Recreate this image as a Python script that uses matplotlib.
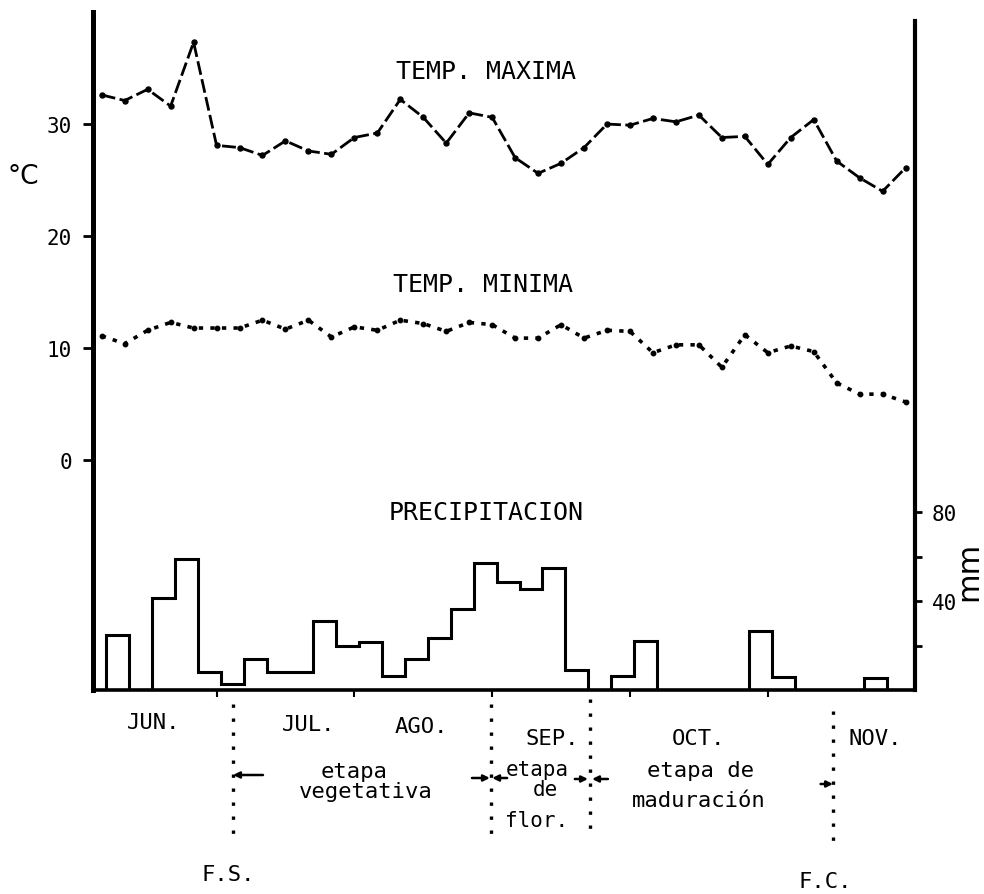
import matplotlib
matplotlib.use("Agg")
import matplotlib.pyplot as plt
import numpy as np

# ---------------- data (pentads, June - November) ----------------
pentad = np.arange(36)
t_max = [32.6, 32.1, 33.1, 31.6, 37.3, 28.1, 27.9, 27.2, 28.5, 27.6, 27.3, 28.8,
         29.2, 32.2, 30.6, 28.3, 31.0, 30.6, 27.0, 25.6, 26.5, 27.9, 30.0, 29.9,
         30.5, 30.2, 30.8, 28.8, 28.9, 26.4, 28.8, 30.4, 26.7, 25.2, 24.0, 26.1]
t_min = [11.1, 10.4, 11.6, 12.3, 11.8, 11.8, 11.8, 12.5, 11.7, 12.5, 11.0, 11.9,
         11.6, 12.5, 12.2, 11.5, 12.3, 12.1, 10.9, 10.9, 12.1, 10.9, 11.6, 11.5,
         9.6, 10.3, 10.3, 8.3, 11.2, 9.6, 10.2, 9.7, 6.9, 5.9, 5.9, 5.2]
precip = [24.5, 0, 41.3, 58.7, 8.0, 2.8, 13.9, 8.0, 8.0, 30.8, 19.6, 21.7,
          6.1, 13.8, 23.4, 36.5, 56.9, 48.5, 45.5, 54.8, 9.1, 0, 6.2, 22.0,
          0, 0, 0, 0, 26.5, 6.0, 0, 0, 0, 5.5, 0]
temp_ticks = [0, 10, 20, 30]
mm_ticks = [40, 80]
mm_minor = [20, 60]
month_labels = ["JUN.", "JUL.", "AGO.", "SEP.", "OCT.", "NOV."]
month_ticks = [5, 11, 17, 23, 29]

# ---------------- layout ----------------
W, H = 984, 895
FONT = "DejaVu Sans Mono"
plt.rcParams["font.family"] = [FONT, "DejaVu Sans"]

fig = plt.figure(figsize=(W / 100, H / 100), dpi=100)
ax_left, ax_right, ax_top, ax_bot = 93, 915, 13, 691
ax = fig.add_axes([ax_left / W, (H - ax_bot) / H, (ax_right - ax_left) / W,
                   (ax_bot - ax_top) / H])

def yf(py):
    """pixel row -> axes fraction (for annotations below the axis)"""
    return (ax_bot - py) / (ax_bot - ax_top)

# temperature curves
ax.plot(pentad, t_max, color="black", lw=2.0, ls=(0, (5, 1.6)),
        marker="o", ms=3.6, mfc="black", mec="black")
ax.plot(pentad, t_min, color="black", lw=2.6, ls=(0, (1.2, 2.0)),
        marker="o", ms=3.2, mfc="black", mec="black")

ax.set_xlim(-0.38, 35.41)
ax.set_ylim(-20.5, 40.0)
ax.set_yticks(temp_ticks)
ax.set_yticklabels([str(t) for t in temp_ticks], fontsize=15, family=FONT)
ax.tick_params(axis="y", direction="out", length=7, width=2, pad=8)
ax.set_xticks(month_ticks)
ax.set_xticklabels([])
ax.tick_params(axis="x", direction="out", length=5, width=1.5)

ax.spines["top"].set_visible(False)
ax.spines["right"].set_visible(False)
ax.spines["left"].set_linewidth(3.6)
ax.spines["bottom"].set_linewidth(2.6)

# precipitation (secondary axis)
ax2 = ax.twinx()
edges = pentad[:len(precip) + 1] + 0.19
ax2.stairs(precip, edges, baseline=0, color="black", lw=2.2)
ax2.set_ylim(0, (ax_bot - ax_top) / 2.225)
ax2.set_yticks(mm_ticks)
ax2.set_yticklabels([str(t) for t in mm_ticks], fontsize=15, family=FONT)
ax2.set_yticks(mm_minor, minor=True)
ax2.tick_params(axis="y", which="both", direction="out", length=5, width=2, pad=7)
for s in ("top", "left", "bottom"):
    ax2.spines[s].set_visible(False)
ax2.spines["right"].set_linewidth(3.0)
ax2.spines["right"].set_bounds(0, (ax_bot - 22) / 2.225)

# curve labels
ax.text(16.74, 34.7, "TEMP. MAXIMA", ha="center", va="center", fontsize=18, family=FONT)
ax.text(16.6, 15.7, "TEMP. MINIMA", ha="center", va="center", fontsize=18, family=FONT)
ax.text(16.74, -4.64, "PRECIPITACION", ha="center", va="center", fontsize=18, family=FONT)

# axis unit labels
fig.text(23 / W, 1 - 177 / H, "°C", ha="center", va="center", fontsize=19,
         family="DejaVu Sans")
fig.text(969 / W, 1 - 571 / H, "mm", ha="center", va="center", fontsize=22,
         rotation=90, family="DejaVu Sans")

tr = ax.get_xaxis_transform()

# month labels
month_pos = [(2.24, 723), (9.03, 725), (13.9, 727), (19.6, 739), (26.0, 739), (33.7, 739)]
for lab, (xm, py) in zip(month_labels, month_pos):
    ax.text(xm, yf(py), lab, transform=tr, ha="center", va="center",
            fontsize=16, family=FONT, clip_on=False)

# stage boundaries (dotted)
for xb, y0, y1 in [(5.72, 705, 837), (16.95, 705, 845), (21.26, 700, 840), (31.84, 712, 852)]:
    ax.plot([xb, xb], [yf(y0), yf(y1)], transform=tr, color="black", lw=2.4,
            ls=(0, (1.0, 3.2)), clip_on=False)

# stage texts
stage_txt = [("etapa", 11.0, 772, 16), ("vegetativa", 11.5, 792, 16),
             ("etapa", 18.95, 770, 15), ("de", 19.3, 790, 15), ("flor.", 18.95, 821, 15),
             ("etapa de", 26.05, 771, 16), ("maduración", 26.0, 801, 16),
             ("F.S.", 5.5, 875, 16), ("F.C.", 31.5, 882, 16)]
for txt, xs, py, fs in stage_txt:
    ax.text(xs, yf(py), txt, transform=tr, ha="center", va="center",
            fontsize=fs, family=FONT, clip_on=False)

# arrows
arrows = [((7.02, 776), (5.72, 776)), ((16.12, 779), (16.9, 779)),
          ((17.65, 779), (17.0, 779)), ((20.6, 780), (21.17, 780)),
          ((22.04, 780), (21.35, 780)), ((31.3, 785), (31.84, 785))]
for (x0, p0), (x1, p1) in arrows:
    ax.annotate("", xy=(x1, yf(p1)), xytext=(x0, yf(p0)), xycoords=tr, textcoords=tr,
                arrowprops=dict(arrowstyle="-|>", color="black", lw=1.8,
                                mutation_scale=9, shrinkA=0, shrinkB=0),
                annotation_clip=False)

fig.savefig("out.png", dpi=100, facecolor="white")
